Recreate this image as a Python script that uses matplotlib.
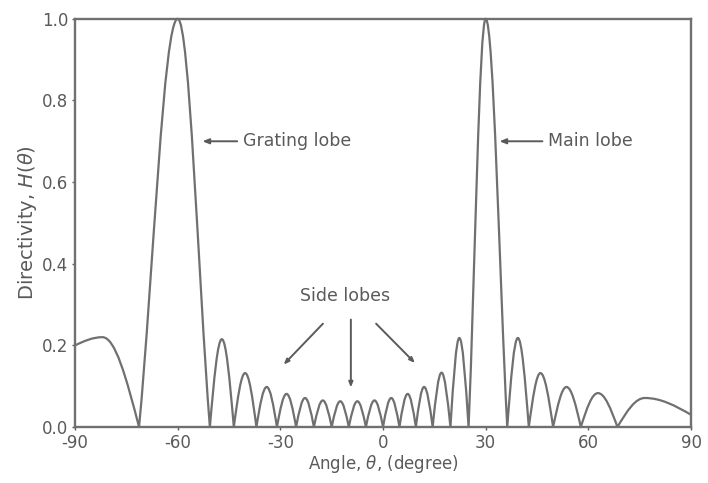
import matplotlib
matplotlib.use("Agg")
import matplotlib.pyplot as plt
from matplotlib.path import Path
from matplotlib.patches import PathPatch

# zeros of the pattern (degrees)
null_deg = [-71.3, -50.6, -43.6, -37.0, -31.0, -25.4, -20.2, -15.0, -10.0, -5.0,
            0.0, 4.8, 9.6, 14.5, 19.7, 25.0, 36.3, 42.6, 49.7, 57.8, 68.5]
# one lobe between each pair of zeros: peak angle and peak height
peak_deg = [-60.0, -47.1, -40.3, -34.0, -28.2, -22.8, -17.6, -12.5, -7.5, -2.5,
            2.4, 7.2, 12.0, 17.1, 22.3, 30.0, 39.4, 46.0, 53.6, 62.8]
peak_val = [1.0, 0.215, 0.132, 0.098, 0.081, 0.071, 0.065, 0.063, 0.063, 0.065,
            0.071, 0.081, 0.098, 0.133, 0.218, 1.0, 0.218, 0.132, 0.098, 0.083]
# partial lobes at both ends of the angle range
left_edge = (-90.0, 0.20)
left_peak = (-82.0, 0.22)
right_peak = (76.5, 0.071)
right_edge = (90.0, 0.03)

x_ticks = [-90, -60, -30, 0, 30, 60, 90]
y_ticks = [0.0, 0.2, 0.4, 0.6, 0.8, 1.0]

grey = "#5a5a5a"
line_grey = "#707070"


def half_lobe(verts, codes, x0, y0, x1, y1, main=False):
    # smooth curve from (x0, y0) up to a peak (x1, y1) with flat top
    t = 0.365 if main else 0.35
    s = 0.365 if main else 0.55
    c2 = 0.635 if main else 0.65
    verts += [(x0 + t * (x1 - x0), y0 + s * (y1 - y0)),
              (x0 + c2 * (x1 - x0), y1),
              (x1, y1)]
    codes += [Path.CURVE4] * 3


def peak_to(verts, codes, x1, y1, x0, y0, main=False):
    # mirror of half_lobe: from peak (x1, y1) down to (x0, y0)
    t = 0.365 if main else 0.35
    s = 0.365 if main else 0.55
    c2 = 0.635 if main else 0.65
    verts += [(x0 + c2 * (x1 - x0), y1),
              (x0 + t * (x1 - x0), y0 + s * (y1 - y0)),
              (x0, y0)]
    codes += [Path.CURVE4] * 3


verts = [left_edge]
codes = [Path.MOVETO]
half_lobe(verts, codes, left_edge[0], left_edge[1], left_peak[0], left_peak[1])
peak_to(verts, codes, left_peak[0], left_peak[1], null_deg[0], 0.0)
for i in range(len(peak_deg)):
    big = peak_val[i] > 0.5
    half_lobe(verts, codes, null_deg[i], 0.0, peak_deg[i], peak_val[i], main=big)
    peak_to(verts, codes, peak_deg[i], peak_val[i], null_deg[i + 1], 0.0, main=big)
half_lobe(verts, codes, null_deg[-1], 0.0, right_peak[0], right_peak[1])
peak_to(verts, codes, right_peak[0], right_peak[1], right_edge[0], right_edge[1])

plt.rcParams["font.family"] = ["DejaVu Sans"]
fig = plt.figure(figsize=(7.08, 4.83), dpi=100)
ax = fig.add_axes([0.106, 0.116, 0.870, 0.845])

ax.add_patch(PathPatch(Path(verts, codes), facecolor="none", edgecolor=line_grey,
                       linewidth=1.6, clip_on=False))

ax.set_xlim(-90, 90)
ax.set_ylim(0, 1.0)
ax.set_xticks(x_ticks)
ax.set_yticks(y_ticks)
ax.set_xticklabels([str(v) for v in x_ticks])
ax.set_yticklabels([f"{v:.1f}" for v in y_ticks])
ax.tick_params(colors=grey, labelsize=12, length=2, width=1, pad=3)
for sp in ax.spines.values():
    sp.set_color(line_grey)
    sp.set_linewidth(1.7)

ax.set_xlabel(r"Angle, $\theta$, (degree)", fontsize=12, color=grey, labelpad=1)
ax.set_ylabel(r"Directivity, $H(\theta)$", fontsize=14, color=grey, labelpad=2)

arrow = dict(arrowstyle="-|>,head_length=0.3,head_width=0.12", color=grey, lw=1.4)
ax.annotate("Grating lobe", xy=(-53.6, 0.70), xytext=(-41.0, 0.70),
            fontsize=12.5, color=grey, va="center", arrowprops=arrow)
ax.annotate("Main lobe", xy=(33.2, 0.70), xytext=(48.2, 0.70),
            fontsize=12.5, color=grey, va="center", arrowprops=arrow)
ax.text(-11.0, 0.32, "Side lobes", fontsize=12.5, color=grey, ha="center", va="center")
for tip, start in [((-29.6, 0.148), (-17.0, 0.258)),
                   ((-9.4, 0.09), (-9.4, 0.27)),
                   ((9.9, 0.152), (-2.6, 0.258))]:
    ax.annotate("", xy=tip, xytext=start, arrowprops=arrow)

fig.savefig("out.png", dpi=100)
